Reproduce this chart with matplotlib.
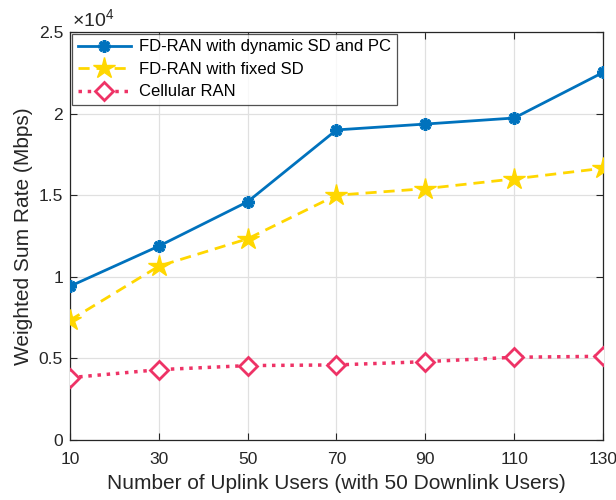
import matplotlib
matplotlib.use("Agg")
import matplotlib.pyplot as plt

plt.rcParams['font.family'] = ['Liberation Sans', 'DejaVu Sans']
plt.rcParams['mathtext.fontset'] = 'custom'
plt.rcParams['mathtext.rm'] = 'Liberation Sans'
plt.rcParams['mathtext.it'] = 'Liberation Sans'

users = [10, 30, 50, 70, 90, 110, 130]
dynamic_sd_pc = [9420, 11880, 14600, 19000, 19360, 19730, 22520]
fixed_sd = [7340, 10650, 12330, 15000, 15400, 16000, 16650]
cellular = [3820, 4310, 4560, 4600, 4800, 5070, 5130]

yticks = [0, 5000, 10000, 15000, 20000, 25000]
ytick_labels = ['0', '0.5', '1', '1.5', '2', '2.5']

fig = plt.figure(figsize=(6.16, 5.0), dpi=100)
ax = fig.add_axes([70/616, 1 - 440/500, (603-70)/616, (440-32)/500])

blue = '#0072BD'
yellow = '#FFD700'
pink = '#EE3366'

ax.plot(users, dynamic_sd_pc, '-', color=blue, lw=2, marker=(8, 2, 0), ms=9,
        mew=2.5, mec=blue, label='FD-RAN with dynamic SD and PC', zorder=5)
ax.plot(users, fixed_sd, '--', color=yellow, lw=2, dashes=(4, 2.5), marker='*', ms=16,
        mec=yellow, mfc=yellow, label='FD-RAN with fixed SD', zorder=4)
ax.plot(users, cellular, ':', color=pink, lw=2.5, marker='D', ms=9, mew=2,
        mec=pink, mfc='white', label='Cellular RAN', zorder=3)

ax.set_xlim(10, 130)
ax.set_ylim(0, 25000)
ax.set_xticks(users)
ax.set_yticks(yticks)
ax.set_yticklabels(ytick_labels)
ax.grid(True, color='#E0E0E0', lw=0.9)
ax.set_axisbelow(True)
ax.tick_params(direction='in', length=5, colors='#262626', labelsize=12.6,
               top=True, right=True, labelcolor='#262626')
ax.tick_params(axis='x', pad=9)
ax.tick_params(axis='y', pad=5)
for s in ax.spines.values():
    s.set_color('#262626')
    s.set_linewidth(0.9)

ax.set_xlabel('Number of Uplink Users (with 50 Downlink Users)', fontsize=15, color='#262626', labelpad=5)
ax.set_ylabel('Weighted Sum Rate (Mbps)', fontsize=15, color='#262626', labelpad=4)
ax.text(0.003, 1.004, r'$\mathregular{\times 10^4}$', transform=ax.transAxes, fontsize=14,
        color='#262626', va='bottom', ha='left')

leg = ax.legend(loc='upper left', fontsize=12, frameon=True, fancybox=False,
                borderpad=0.35, labelspacing=0.45, handlelength=3.2, handletextpad=0.5,
                borderaxespad=0.1)
leg.get_frame().set_edgecolor('#262626')
leg.get_frame().set_linewidth(0.9)

fig.savefig('out.png', dpi=100)
